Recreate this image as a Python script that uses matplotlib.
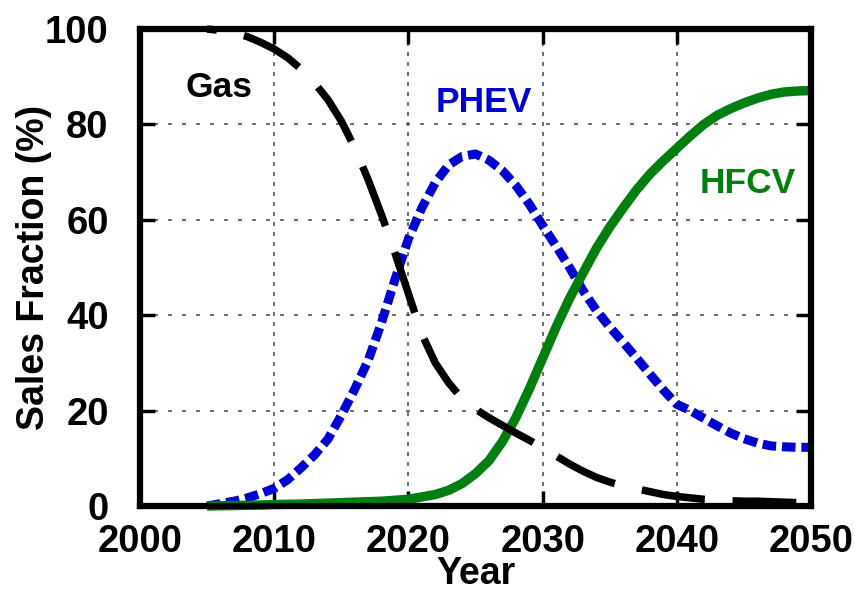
import numpy as np
import matplotlib
matplotlib.use("Agg")
import matplotlib.pyplot as plt

plt.rcParams['font.family'] = ['Liberation Sans', 'DejaVu Sans']
plt.rcParams['font.weight'] = 'bold'

# data (sales fraction, %)
years = list(range(2005, 2051))

gas = [100, 99.7, 99.2, 98.4, 97.2, 95.8, 94.0, 91.6, 88.7, 85.2,
       80.7, 75.1, 68.4, 61.0, 53.0, 44.5, 36.0, 30.0, 25.8, 22.5,
       20.3, 18.5, 16.9, 15.3, 13.8, 12.2, 10.5, 8.8, 7.3, 6.0,
       5.0, 4.2, 3.6, 3.0, 2.4, 2.0, 1.7, 1.4, 1.2, 1.1,
       1.0, 1.0, 0.9, 0.8, 0.7, 0.6]

phev = [0, 0.5, 1.0, 1.7, 2.6, 3.7, 5.5, 8.0, 10.7, 14.0,
        19.0, 24.5, 30.5, 38.5, 47.5, 56.0, 62.5, 67.8, 71.5, 73.3,
        73.8, 72.5, 70.3, 67.2, 63.3, 58.8, 54.5, 50.0, 45.2, 41.0,
        37.5, 34.3, 31.0, 27.6, 24.3, 21.3, 20.0, 18.4, 16.8, 15.3,
        14.1, 13.2, 12.6, 12.4, 12.3, 12.3]

hfcv = [0, 0.05, 0.1, 0.15, 0.2, 0.3, 0.35, 0.4, 0.5, 0.6,
        0.7, 0.8, 0.9, 1.0, 1.2, 1.4, 1.9, 2.4, 3.3, 4.7,
        6.8, 9.5, 13.5, 18.5, 24.5, 31.0, 37.5, 43.5, 48.8, 54.0,
        58.5, 62.5, 66.3, 69.6, 72.4, 75.0, 77.6, 80.0, 81.9, 83.3,
        84.5, 85.5, 86.3, 86.8, 87.0, 87.1]

x_ticks = [2000, 2010, 2020, 2030, 2040, 2050]
y_ticks = [0, 20, 40, 60, 80, 100]

blue = '#0000d0'
green = '#007f10'

fig = plt.figure(figsize=(8.55, 5.92), dpi=100)
ax = fig.add_axes([0.1637, 0.1453, 0.785, 0.8057])

ax.plot(years, phev, color=blue, lw=6.5, ls=(0, (1.5, 0.65)),
        solid_capstyle='butt', dash_capstyle='butt', clip_on=False, zorder=2)
ax.plot(years, hfcv, color=green, lw=6.8, solid_capstyle='butt',
        clip_on=False, zorder=2.1)
# long dashes, first one cut short like in the original
ax.plot(years, gas, color='black', lw=5.4, ls=(7.2, (8.5, 3.7)),
        dash_capstyle='butt', clip_on=False, zorder=2.2)

ax.text(2005.9, 85.7, 'Gas', fontsize=25.5, fontweight='bold', color='black', ha='center')
ax.text(2025.6, 82.6, 'PHEV', fontsize=25.5, fontweight='bold', color=blue, ha='center')
ax.text(2045.3, 65.6, 'HFCV', fontsize=25.5, fontweight='bold', color=green, ha='center')

ax.set_xlim(2000, 2050)
ax.set_ylim(0, 100)
ax.set_xticks(x_ticks)
ax.set_yticks(y_ticks)

ax.yaxis.grid(True, color='#555555', lw=1.2, ls=(0, (2.4, 6)))
ax.xaxis.grid(True, color='#555555', lw=1.2, ls=(0, (2.4, 3.6)))

ax.tick_params(axis='both', direction='in', length=11, width=2.5,
               top=True, right=True, labelsize=27.5)
ax.tick_params(axis='x', pad=13)
ax.tick_params(axis='y', pad=22.5)
for lab in ax.get_xticklabels() + ax.get_yticklabels():
    lab.set_fontweight('bold')

for sp in ax.spines.values():
    sp.set_linewidth(4.5)

ax.set_xlabel('Year', fontsize=27, fontweight='bold', labelpad=-3)
ax.set_ylabel('Sales Fraction (%)', fontsize=27, fontweight='bold', labelpad=-5)

plt.savefig('out.png', dpi=100)
